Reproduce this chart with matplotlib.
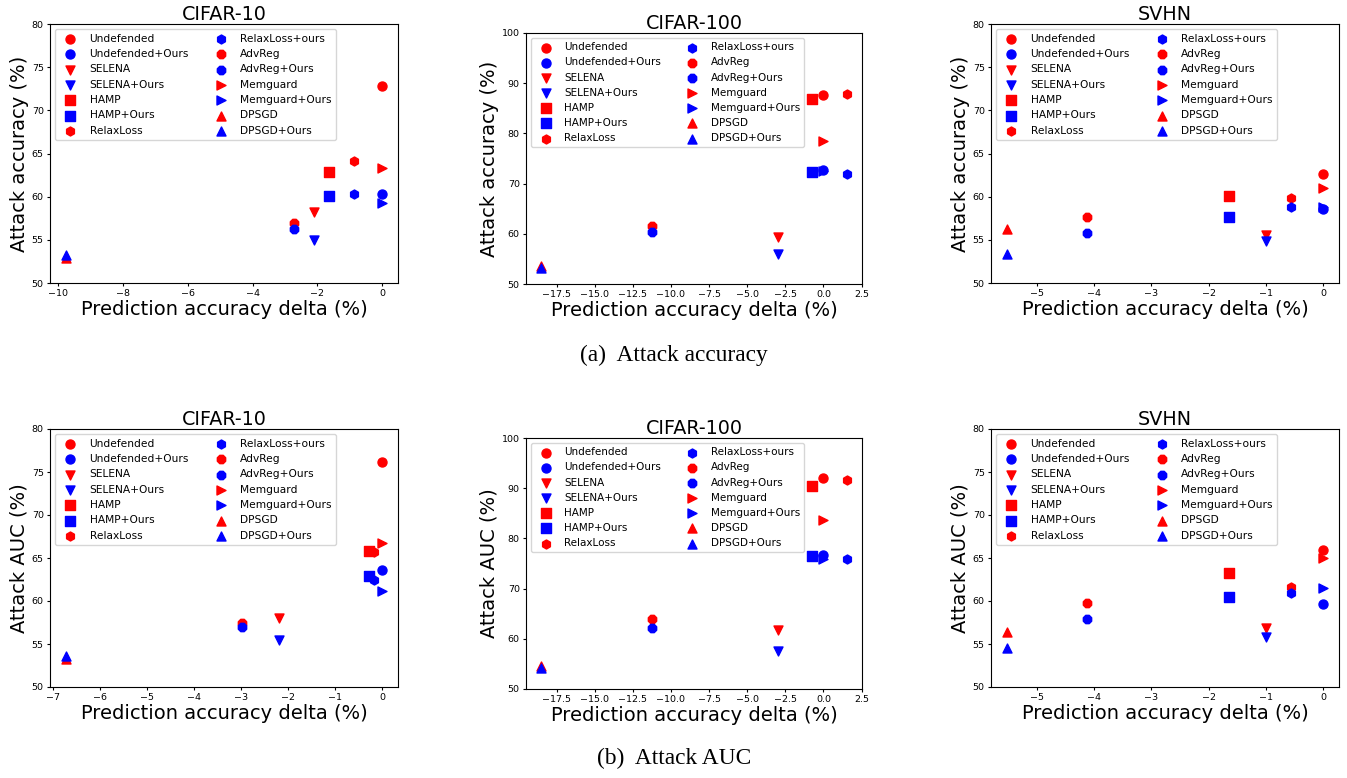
import matplotlib
matplotlib.use('Agg')
import matplotlib.pyplot as plt

# legend order: (label, marker, colour)
methods = ['Undefended', 'Undefended+Ours', 'SELENA', 'SELENA+Ours', 'HAMP', 'HAMP+Ours',
           'RelaxLoss', 'RelaxLoss+ours', 'AdvReg', 'AdvReg+Ours', 'Memguard', 'Memguard+Ours',
           'DPSGD', 'DPSGD+Ours']
markers = ['o', 'o', 'v', 'v', 's', 's', 'h', 'h', '8', '8', '>', '>', '^', '^']
colors = ['red', 'blue'] * 7

# prediction accuracy delta (%) per method, same order as methods
cifar10_acc_x = [0, 0, -2.1, -2.1, -1.65, -1.65, -0.86, -0.86, -2.73, -2.73, 0, 0, -9.77, -9.77]
cifar10_acc_y = [72.85, 60.35, 58.2, 55.0, 62.8, 60.05, 64.1, 60.3, 57.0, 56.3, 63.3, 59.25, 52.9, 53.2]

cifar100_acc_x = [0, 0, -2.95, -2.95, -0.74, -0.74, 1.53, 1.53, -11.27, -11.27, 0, 0, -18.5, -18.5]
cifar100_acc_y = [87.6, 72.8, 59.3, 55.9, 86.8, 72.3, 87.8, 71.9, 61.6, 60.4, 78.5, 72.5, 53.5, 53.1]

svhn_acc_x = [0, 0, -1.0, -1.0, -1.64, -1.64, -0.57, -0.57, -4.12, -4.12, 0, 0, -5.52, -5.52]
svhn_acc_y = [62.6, 58.6, 55.6, 54.9, 60.05, 57.7, 59.9, 58.8, 57.7, 55.8, 61.0, 58.8, 56.3, 53.4]

cifar10_auc_x = [0, 0, -2.19, -2.19, -0.28, -0.28, -0.17, -0.17, -2.98, -2.98, 0, 0, -6.72, -6.72]
cifar10_auc_y = [76.2, 63.6, 58.0, 55.5, 65.85, 62.9, 65.7, 62.5, 57.45, 57.0, 66.8, 61.2, 53.25, 53.6]

cifar100_auc_x = [0, 0, -2.95, -2.95, -0.74, -0.74, 1.53, 1.53, -11.27, -11.27, 0, 0, -18.5, -18.5]
cifar100_auc_y = [92.0, 76.7, 61.7, 57.6, 90.5, 76.5, 91.7, 75.8, 63.9, 62.25, 83.7, 75.9, 54.5, 54.1]

svhn_auc_x = [0, 0, -1.0, -1.0, -1.64, -1.64, -0.57, -0.57, -4.12, -4.12, 0, 0, -5.52, -5.52]
svhn_auc_y = [65.9, 59.6, 56.9, 55.8, 63.2, 60.5, 61.6, 60.9, 59.8, 57.9, 65.0, 61.5, 56.4, 54.5]

W, H = 1347, 778
fig = plt.figure(figsize=(W / 100, H / 100), dpi=100)


def make_axes(left, top, right, bottom):
    return fig.add_axes([left / W, 1 - bottom / H, (right - left) / W, (bottom - top) / H])


panels = [
    # (axes box in pixels, title, ylabel, ylim, legend size, x, y)
    ((50, 24, 398, 283), 'CIFAR-10', 'Attack accuracy (%)', (50, 80), 7.7, cifar10_acc_x, cifar10_acc_y),
    ((526, 33, 862, 284), 'CIFAR-100', 'Attack accuracy (%)', (50, 100), 7.45, cifar100_acc_x, cifar100_acc_y),
    ((991, 24, 1339, 283), 'SVHN', 'Attack accuracy (%)', (50, 80), 7.7, svhn_acc_x, svhn_acc_y),
    ((50, 429, 398, 687), 'CIFAR-10', 'Attack AUC (%)', (50, 80), 7.7, cifar10_auc_x, cifar10_auc_y),
    ((526, 438, 862, 689), 'CIFAR-100', 'Attack AUC (%)', (50, 100), 7.45, cifar100_auc_x, cifar100_auc_y),
    ((991, 429, 1339, 687), 'SVHN', 'Attack AUC (%)', (50, 80), 7.7, svhn_auc_x, svhn_auc_y),
]

for box, title, ylabel, ylim, legsize, xs, ys in panels:
    ax = make_axes(*box)
    for i, name in enumerate(methods):
        ax.scatter(xs[i], ys[i], marker=markers[i], c=colors[i], s=42, label=name)
    ax.set_ylim(*ylim)
    ax.set_title(title, fontsize=13.8, pad=3)
    ax.set_xlabel('Prediction accuracy delta (%)', fontsize=14, labelpad=1)
    ax.set_ylabel(ylabel, fontsize=14, labelpad=2)
    ax.tick_params(labelsize=6.8, length=2.5, pad=2)
    ax.legend(loc='upper left', ncol=2, fontsize=legsize, labelspacing=0.5)

fig.text(674 / W, 1 - 355 / H, '(a)  Attack accuracy', ha='center', va='center',
         family='Liberation Serif', fontsize=16.8)
fig.text(674 / W, 1 - 758 / H, '(b)  Attack AUC', ha='center', va='center',
         family='Liberation Serif', fontsize=16.8)

plt.savefig('out.png', dpi=100)
